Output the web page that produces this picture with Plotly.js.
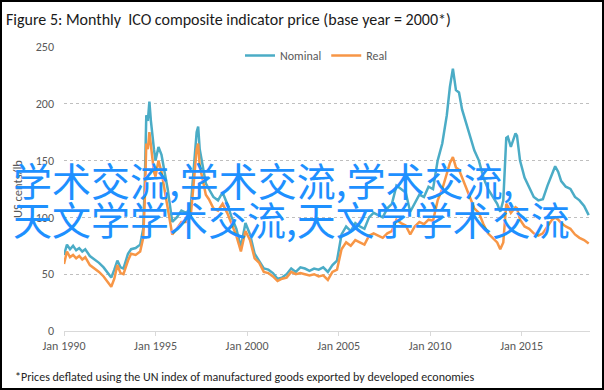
<!DOCTYPE html>
<html>
<head>
<meta charset="utf-8">
<script src="https://cdn.plot.ly/plotly-3.0.1.min.js"></script>
<style>
html,body{margin:0;padding:0;background:#fff;}
#wrap{position:relative;width:604px;height:390px;}
#chart{width:604px;height:390px;}
#frame{position:absolute;left:0;top:0;width:604px;height:390px;box-sizing:border-box;border:2px solid #000;pointer-events:none;}
</style>
</head>
<body>
<div id="wrap"><div id="chart"></div><div id="frame"></div></div>
<script>
// Sample dates
const dates = [
"1990-01","1990-03","1990-05","1990-07","1990-09","1990-11",
"1991-01","1991-03","1991-06","1991-09","1991-12",
"1992-03","1992-06","1992-08","1992-10","1992-12",
"1993-02","1993-04","1993-07","1993-09","1993-12",
"1994-03","1994-05","1994-06","1994-07","1994-08","1994-09","1994-10","1994-12",
"1995-01","1995-03","1995-05","1995-07","1995-09","1995-12",
"1996-03","1996-06","1996-09","1996-12",
"1997-02","1997-04","1997-05","1997-06","1997-08","1997-10","1997-12",
"1998-03","1998-06","1998-09","1998-12",
"1999-03","1999-06","1999-09","1999-12",
"2000-03","2000-06","2000-09","2000-12",
"2001-03","2001-06","2001-09","2001-12",
"2002-03","2002-06","2002-09","2002-12",
"2003-03","2003-06","2003-09","2003-12",
"2004-03","2004-06","2004-09","2004-12",
"2005-03","2005-06","2005-09","2005-12",
"2006-03","2006-06","2006-09","2006-12",
"2007-03","2007-06","2007-09","2007-12",
"2008-03","2008-06","2008-09","2008-12",
"2009-03","2009-06","2009-09","2009-12",
"2010-03","2010-06","2010-09","2010-12",
"2011-02","2011-04","2011-06","2011-08","2011-10","2011-12",
"2012-03","2012-06","2012-09","2012-12",
"2013-03","2013-06","2013-09","2013-11",
"2014-01","2014-03","2014-04","2014-06","2014-09","2014-10","2014-12",
"2015-03","2015-06","2015-09","2015-12",
"2016-03","2016-06","2016-09","2016-11",
"2017-01","2017-03","2017-06","2017-09","2017-12",
"2018-03","2018-06","2018-09"
];
const nominal = [
67,76,72,75,71,73,
70,72,66,63,60,
56,50,47,54,62,
56,55,68,72,73,
76,90,130,190,185,202,185,160,
150,162,155,140,125,96,
100,106,104,108,
140,175,180,160,145,130,125,
118,115,122,112,
100,90,74,95,
85,68,62,55,
54,51,46,47,
50,55,52,56,
55,53,55,54,
56,52,58,62,
85,92,88,95,
92,90,100,104,
102,100,108,112,
128,125,122,105,
112,120,118,127,
125,150,165,190,
215,231,212,210,195,186,
174,159,150,135,
125,118,112,105,
115,170,171,162,174,172,150,
135,126,118,115,
116,128,139,145,
140,132,127,125,118,
115,110,102
];
const real = [
59,70,65,67,64,66,
63,65,58,55,52,
48,43,39,46,58,
51,50,62,68,67,
70,82,115,165,160,175,165,140,
136,150,140,125,110,85,
90,96,96,100,
130,160,165,145,133,120,116,
108,106,112,104,
94,84,70,88,
80,64,60,52,
51,48,44,46,
47,52,50,51,
50,49,50,48,
49,45,52,54,
72,78,75,80,
78,76,84,86,
84,82,86,88,
98,95,93,85,
92,96,94,98,
97,115,125,138,
148,153,144,142,135,128,
118,108,104,94,
86,82,78,72,
78,112,110,104,109,108,98,
92,90,86,84,
86,92,98,100,
98,95,92,90,85,
82,80,77
];
const seriesNames = ["Nominal","Real"];
const xTickVals = ["1990-01-01","1995-01-01","2000-01-01","2005-01-01","2010-01-01","2015-01-01"];
const xTickText = ["Jan 1990","Jan 1995","Jan 2000","Jan 2005","Jan 2010","Jan 2015"];

const L = 64, R = 590, T = 47, B = 331;
const px = x => (x - L) / (R - L);
const py = y => (B - y) / (B - T);
const baseFont = "Carlito, 'Liberation Sans Narrow', 'Liberation Sans', Arial, sans-serif";
const cjk = "'Noto Sans CJK SC', 'Noto Sans CJK JP', sans-serif";

const traces = [
  {x: dates, y: nominal, name: seriesNames[0], type: "scatter", mode: "lines",
   line: {color: "#4BACC6", width: 2.5}},
  {x: dates, y: real, name: seriesNames[1], type: "scatter", mode: "lines",
   line: {color: "#F79646", width: 2.5}}
];

const layout = {
  width: 604, height: 390,
  margin: {l: L, r: 604 - R, t: T, b: 390 - B},
  paper_bgcolor: "#fff", plot_bgcolor: "#fff",
  font: {family: baseFont, size: 12, color: "#595959"},
  title: {text: "Figure 5: Monthly  ICO composite indicator price (base year = 2000*)",
          font: {family: baseFont, size: 16, color: "#1a1a1a"},
          xref: "container", yref: "container", x: 6/604, xanchor: "left",
          y: 1 - 19/390, yanchor: "middle"},
  showlegend: true,
  legend: {orientation: "h", x: px(240), xanchor: "left", y: py(41), yanchor: "top",
           font: {size: 12, color: "#595959"}, bgcolor: "rgba(0,0,0,0)"},
  xaxis: {type: "date", range: ["1990-01-01", "2018-09-27"],
          tickvals: xTickVals, ticktext: xTickText,
          showgrid: false, zeroline: false, showline: true, linecolor: "#d9d9d9", linewidth: 1,
          ticks: "outside", ticklen: 4, tickcolor: "#d9d9d9",
          tickfont: {size: 12, color: "#595959"}},
  yaxis: {range: [0, 250], dtick: 50, tick0: 0, showgrid: true, gridcolor: "#bfbfbf",
          griddash: "dot", gridwidth: 1, zeroline: false, showline: false, ticks: "",
          ticklabelstandoff: 9, tickfont: {size: 12, color: "#595959"}},
  annotations: [
    {text: "US cents/lb", xref: "paper", yref: "paper", x: px(17), y: 0.5, textangle: -90,
     showarrow: false, font: {size: 12.5, color: "#595959"}, xanchor: "center", yanchor: "middle"},
    {text: "*Prices deflated using the UN index of manufactured goods exported by developed economies",
     xref: "paper", yref: "paper", x: px(13), y: py(377), xanchor: "left", yanchor: "middle",
     showarrow: false, font: {size: 12, color: "#262626"}},
    {text: "学术交流,学术交流,学术交流,", xref: "paper", yref: "paper", x: px(11), y: py(179),
     xanchor: "left", yanchor: "middle", showarrow: false,
     font: {family: cjk, size: 39, color: "#1E90FF"}},
    {text: "天文学学术交流,天文学学术交流", xref: "paper", yref: "paper", x: px(11), y: py(218),
     xanchor: "left", yanchor: "middle", showarrow: false,
     font: {family: cjk, size: 39, color: "#1E90FF"}}
  ]
};

Plotly.newPlot("chart", traces, layout, {displayModeBar: false, staticPlot: true});
</script>
</body>
</html>
